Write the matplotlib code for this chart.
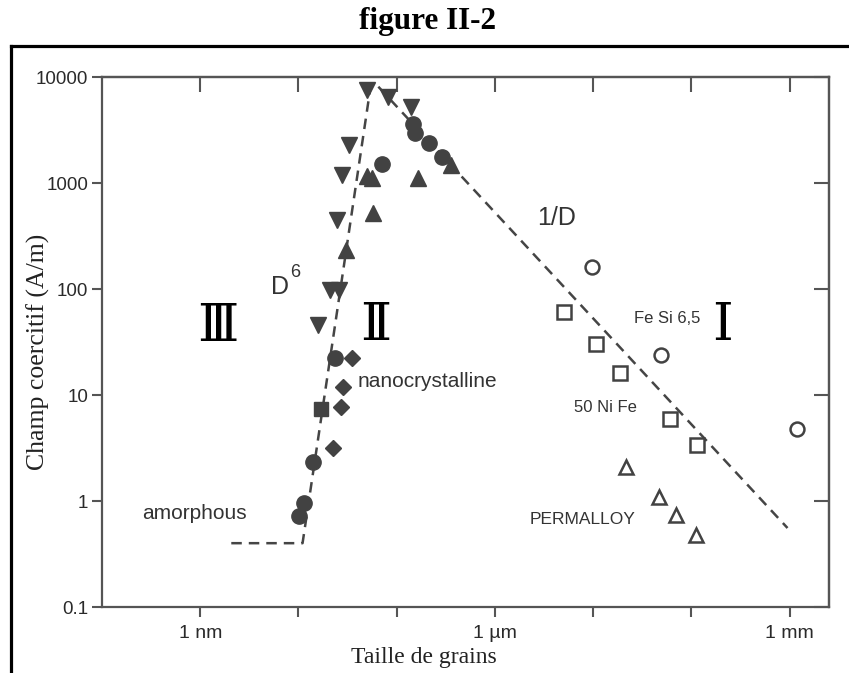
import matplotlib
matplotlib.use("Agg")
import matplotlib.pyplot as plt
from matplotlib.ticker import NullLocator, FixedLocator
from matplotlib.lines import Line2D

# ---------------- data (grain size D in m, coercive field H in A/m) ----------------
filled_circle_D = [1.02e-8, 1.15e-8, 1.42e-8, 2.37e-8, 7.1e-8, 1.48e-7, 1.55e-7, 2.15e-7, 2.9e-7]
filled_circle_H = [0.72, 0.96, 2.33, 22.3, 1510, 3600, 2970, 2380, 1760]

down_tri_D = [5.0e-8, 8.2e-8, 1.41e-7, 3.29e-8, 2.79e-8, 2.48e-8, 2.11e-8, 2.6e-8, 1.59e-8]
down_tri_H = [7530, 6470, 5210, 2280, 1190, 448, 98, 98, 45.7]

up_tri_D = [3.6e-7, 5.0e-8, 5.65e-8, 1.66e-7, 5.78e-8, 3.07e-8]
up_tri_H = [1480, 1165, 1115, 1115, 521, 233]

square_D = [1.71e-8]
square_H = [7.38]

diamond_D = [3.53e-8, 2.86e-8, 2.73e-8, 2.26e-8]
diamond_H = [22.3, 11.9, 7.7, 3.16]

fesi_D = [9.8e-6, 4.95e-5, 1.2e-3]
fesi_H = [161, 23.8, 4.78]

nife_D = [5.1e-6, 1.08e-5, 1.89e-5, 6.1e-5, 1.15e-4]
nife_H = [60.7, 30.3, 16.1, 5.94, 3.38]

perm_D = [2.18e-5, 4.72e-5, 7.03e-5, 1.1e-4]
perm_H = [2.09, 1.09, 0.74, 0.48]

# guide lines: amorphous plateau + D^6 branch, and 1/D branch
d6_D = [2.07e-9, 1.1e-8, 5.5e-8]
d6_H = [0.4, 0.4, 8900]
inv_D = [6.5e-8, 9.5e-4]
inv_H = [8100, 0.556]

x_ticks = [1e-9, 1e-8, 1e-7, 1e-6, 1e-5, 1e-4, 1e-3]
x_tick_labels = ["1 nm", "", "", "1 µm", "", "", "1 mm"]
y_ticks = [0.1, 1, 10, 100, 1000, 10000]
y_tick_labels = ["0.1", "1", "10", "100", "1000", "10000"]

# ---------------- figure ----------------
W, H = 849, 673
fig = plt.figure(figsize=(W / 100, H / 100), dpi=100)
fig.patch.set_facecolor("white")

ax = fig.add_axes([102 / W, 1 - 607 / H, (829 - 102) / W, (607 - 77) / H])
ax.set_xscale("log")
ax.set_yscale("log")
ax.set_xlim(10 ** -10.0, 10 ** -2.6)
ax.set_ylim(0.1, 1e4)

mk = "#424242"
ln = "#454545"

ax.plot(d6_D, d6_H, color=ln, lw=1.8, linestyle=(0, (4.2, 2.8)), zorder=2)
ax.plot(inv_D, inv_H, color=ln, lw=1.8, linestyle=(0, (4.2, 2.8)), zorder=2)

ax.plot(filled_circle_D, filled_circle_H, "o", ms=11, color=mk, mec=mk, ls="none", zorder=3)
ax.plot(down_tri_D, down_tri_H, "v", ms=11, color=mk, mec=mk, ls="none", zorder=3)
ax.plot(up_tri_D, up_tri_H, "^", ms=11, color=mk, mec=mk, ls="none", zorder=3)
ax.plot(square_D, square_H, "s", ms=10, color=mk, mec=mk, ls="none", zorder=3)
ax.plot(diamond_D, diamond_H, "D", ms=8, color=mk, mec=mk, ls="none", zorder=3)

ax.plot(fesi_D, fesi_H, "o", ms=10, mfc="white", mec=mk, mew=1.8, ls="none", zorder=3)
ax.plot(nife_D, nife_H, "s", ms=10, mfc="white", mec=mk, mew=1.8, ls="none", zorder=3)
ax.plot(perm_D, perm_H, "^", ms=10, mfc="white", mec=mk, mew=1.8, ls="none", zorder=3)

# ---------------- axes styling ----------------
spine_c = "#555555"
for s in ax.spines.values():
    s.set_color(spine_c)
    s.set_linewidth(1.6)

ax.xaxis.set_major_locator(FixedLocator(x_ticks))
ax.set_xticklabels(x_tick_labels)
ax.yaxis.set_major_locator(FixedLocator(y_ticks))
ax.set_yticklabels(y_tick_labels)
ax.xaxis.set_minor_locator(NullLocator())
ax.yaxis.set_minor_locator(NullLocator())
ax.tick_params(axis="both", which="major", direction="out", length=7, width=1.5,
               color=spine_c, labelsize=13.5, labelcolor="#2a2a2a")
ax.tick_params(axis="x", pad=6, labelsize=14)
ax.tick_params(axis="y", pad=3)
for lab in ax.get_xticklabels() + ax.get_yticklabels():
    lab.set_fontfamily("Liberation Sans")

sec_x = ax.secondary_xaxis("top")
sec_x.set_xticks(x_ticks)
sec_x.xaxis.set_minor_locator(NullLocator())
sec_x.tick_params(axis="x", direction="in", length=11, width=1.5, color=spine_c,
                  labeltop=False, labelbottom=False)
sec_x.spines["top"].set_color(spine_c)
sec_x.spines["top"].set_linewidth(1.6)

sec_y = ax.secondary_yaxis("right")
sec_y.set_yticks(y_ticks)
sec_y.yaxis.set_minor_locator(NullLocator())
sec_y.tick_params(axis="y", direction="in", length=11, width=1.5, color=spine_c,
                  labelright=False, labelleft=False)
sec_y.spines["right"].set_color(spine_c)
sec_y.spines["right"].set_linewidth(1.6)

# ---------------- annotations ----------------
tc = "#333333"
sans = "Liberation Sans"
ax.text(8.7e-10, 0.77, "amorphous", fontsize=15, family=sans, color=tc, ha="center", va="center")
ax.text(5.28e-9, 104, "D", fontsize=18, family=sans, color=tc, ha="left", va="center")
ax.text(8.26e-9, 144.6, "6", fontsize=13, family=sans, color=tc, ha="left", va="center")
ax.text(3.97e-8, 13.3, "nanocrystalline", fontsize=15, family=sans, color=tc, ha="left", va="center")
ax.text(2.7e-6, 468, "1/D", fontsize=18, family=sans, color=tc, ha="left", va="center")
ax.text(2.63e-5, 53.2, "Fe Si 6,5", fontsize=12, family=sans, color=tc, ha="left", va="center")
ax.text(6.44e-6, 7.54, "50 Ni Fe", fontsize=12, family=sans, color=tc, ha="left", va="center")
ax.text(2.24e-6, 0.676, "PERMALLOY", fontsize=12.5, family=sans, color=tc, ha="left", va="center")

roman = ["DejaVu Serif", "DejaVu Sans"]
ax.text(1.52e-9, 43.9, "Ⅲ", fontsize=38, family=roman, color="black", ha="center", va="center")
ax.text(6.05e-8, 45.7, "Ⅱ", fontsize=38, family=roman, color="black", ha="center", va="center")
ax.text(2.07e-4, 44.8, "Ⅰ", fontsize=38, family=roman, color="black", ha="center", va="center")

# ---------------- outer frame, title, axis titles ----------------
fig.add_artist(Line2D([11 / W, 1.0], [1 - 46 / H, 1 - 46 / H], transform=fig.transFigure,
                      color="black", lw=2.3))
fig.add_artist(Line2D([11 / W, 11 / W], [0.0, 1 - 46 / H], transform=fig.transFigure,
                      color="black", lw=2.3))

serif = "Liberation Serif"
fig.text(428 / W, 1 - 22 / H, "figure II-2", fontsize=22.5, fontweight="bold", family=serif,
         ha="center", va="center", color="black")
fig.text(38 / W, 1 - 352 / H, "Champ coercitif (A/m)", fontsize=18.5, family=serif,
         rotation=90, ha="center", va="center", color="#222222")
fig.text(424 / W, 1 - 657 / H, "Taille de grains", fontsize=17, family=serif,
         ha="center", va="center", color="#222222")

fig.savefig("out.png", dpi=100, facecolor="white")
